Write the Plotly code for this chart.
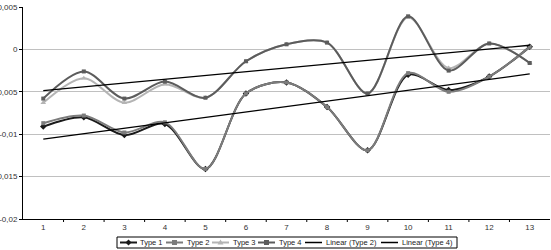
import numpy as np
import plotly.graph_objects as go

categories = [1, 2, 3, 4, 5, 6, 7, 8, 9, 10, 11, 12, 13]
type1 = [-0.0091, -0.0080, -0.0101, -0.0088, -0.0141, -0.0052, -0.0039, -0.0068, -0.0119, -0.0030, -0.0048, -0.0032, 0.0003]
type2 = [-0.0087, -0.0078, -0.0098, -0.0086, -0.0141, -0.0052, -0.0039, -0.0068, -0.0119, -0.0028, -0.0050, -0.0032, 0.0003]
type3 = [-0.0063, -0.0034, -0.0063, -0.0041, -0.0057, -0.0014, 0.0006, 0.0008, -0.0052, 0.0038, -0.0022, 0.0007, -0.0016]
type4 = [-0.0058, -0.0026, -0.0058, -0.0038, -0.0057, -0.0014, 0.0006, 0.0008, -0.0052, 0.0039, -0.0025, 0.0007, -0.0016]
y_ticks = [0.005, 0, -0.005, -0.01, -0.015, -0.02]
y_labels = ["0,005", "0", "-0,005", "-0,01", "-0,015", "-0,02"]
legend_names = ["Type 1", "Type 2", "Type 3", "Type 4", "Linear (Type 2)", "Linear (Type 4)"]

x = np.array(categories, dtype=float)
lin2 = list(np.polyval(np.polyfit(x, type2, 1), x))
lin4 = list(np.polyval(np.polyfit(x, type4, 1), x))

W, H = 551, 250
ML, MR, MT, MB = 23, 1, 7, 31
PW, PH = W - ML - MR, H - MT - MB

def px(xp):
    return (xp - ML) / PW

def py(yp):
    return (H - MB - yp) / PH

styles = [
    ("#1a1a1a", "diamond", 5),
    ("#7c7c7c", "square", 4),
    ("#b4b4b4", "triangle-up", 5),
    ("#5c5c5c", "square", 4),
]

fig = go.Figure()
for name, ys, (col, sym, sz) in zip(legend_names[:4], [type1, type2, type3, type4], styles):
    fig.add_trace(go.Scatter(
        x=categories, y=ys, name=name, mode="lines+markers",
        line=dict(color=col, width=2, shape="spline", smoothing=0.9),
        marker=dict(symbol=sym, size=sz, color=col),
    ))
fig.add_trace(go.Scatter(x=categories, y=lin2, name=legend_names[4], mode="lines",
                         line=dict(color="#000000", width=1.3)))
fig.add_trace(go.Scatter(x=categories, y=lin4, name=legend_names[5], mode="lines",
                         line=dict(color="#000000", width=1.3)))

shapes = []
annotations = []
# x-axis boundary tick marks
for b in np.arange(1.5, 13.5, 1.0):
    shapes.append(dict(type="line", xref="x", yref="paper", x0=b, x1=b, y0=0, y1=-3 / PH,
                       line=dict(color="#000000", width=1)))

# manual legend
shapes.append(dict(type="rect", xref="paper", yref="paper", x0=px(117), x1=px(457),
                   y0=py(248), y1=py(237), line=dict(color="#000000", width=1),
                   fillcolor="white"))
ly = 242.5
items = [(120, 137, 139), (166, 183, 186), (212, 229, 232), (258, 275, 278),
         (305, 322, 325), (381, 398, 401)]
for i, (x0, x1, tx) in enumerate(items):
    if i < 4:
        col, sym, sz = styles[i]
        lw = 2
    else:
        col, sym, sz = "#000000", None, 0
        lw = 1.5
    shapes.append(dict(type="line", xref="paper", yref="paper", x0=px(x0), x1=px(x1),
                       y0=py(ly), y1=py(ly), line=dict(color=col, width=lw)))
    cx = (x0 + x1) / 2
    if sym == "square":
        shapes.append(dict(type="rect", xref="paper", yref="paper", x0=px(cx - 2.5), x1=px(cx + 2.5),
                           y0=py(ly + 2.5), y1=py(ly - 2.5), line=dict(width=0), fillcolor=col))
    elif sym == "diamond":
        pts = [(cx, ly - 3), (cx + 3, ly), (cx, ly + 3), (cx - 3, ly)]
        path = "M " + " L ".join(f"{px(a)},{py(b)}" for a, b in pts) + " Z"
        shapes.append(dict(type="path", xref="paper", yref="paper", path=path,
                           line=dict(width=0), fillcolor=col))
    elif sym == "triangle-up":
        pts = [(cx, ly - 3), (cx + 3, ly + 2), (cx - 3, ly + 2)]
        path = "M " + " L ".join(f"{px(a)},{py(b)}" for a, b in pts) + " Z"
        shapes.append(dict(type="path", xref="paper", yref="paper", path=path,
                           line=dict(width=0), fillcolor=col))
    annotations.append(dict(xref="paper", yref="paper", x=px(tx), y=py(ly), text=legend_names[i],
                            showarrow=False, xanchor="left", yanchor="middle",
                            font=dict(size=7.5, color="#222222"), borderpad=0))

fig.update_layout(
    width=W, height=H,
    margin=dict(l=ML, r=MR, t=MT, b=MB),
    paper_bgcolor="white", plot_bgcolor="white",
    font=dict(family="Liberation Sans, Arial, sans-serif", size=8, color="#333333"),
    showlegend=False,
    shapes=shapes, annotations=annotations,
    xaxis=dict(range=[0.5, 13.5], tickmode="array", tickvals=categories,
               ticktext=[str(c) for c in categories],
               showgrid=False, zeroline=False, showline=True, linecolor="#000000", linewidth=1,
               ticks="", automargin=False),
    yaxis=dict(range=[-0.02, 0.005], tickmode="array", tickvals=y_ticks, ticktext=y_labels,
               showgrid=True, gridcolor="#c0c0c0", gridwidth=1, zeroline=False,
               showline=True, linecolor="#000000", linewidth=1,
               ticks="outside", ticklen=3, tickcolor="#000000", automargin=False),
)

fig.write_html("out.html")
